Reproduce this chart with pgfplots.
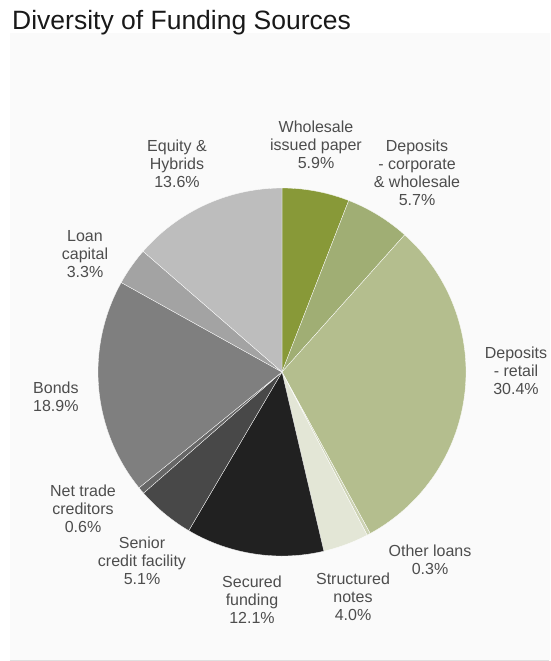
\documentclass[border=0pt]{standalone}
\usepackage{pgfplots}
\pgfplotsset{compat=1.18}
\usepackage{fontspec}
\setmainfont{Liberation Sans}
\definecolor{cWholesale}{HTML}{889938}
\definecolor{cDepCorp}{HTML}{A0AE74}
\definecolor{cDepRetail}{HTML}{B4BE8E}
\definecolor{cOther}{HTML}{CDD3B4}
\definecolor{cStruct}{HTML}{E3E6D6}
\definecolor{cSecured}{HTML}{212121}
\definecolor{cSenior}{HTML}{484848}
\definecolor{cNetTrade}{HTML}{666666}
\definecolor{cBonds}{HTML}{7F7F7F}
\definecolor{cLoan}{HTML}{A3A3A3}
\definecolor{cEquity}{HTML}{BDBDBD}
\definecolor{txt}{HTML}{4D4D4D}
\definecolor{panel}{HTML}{FAFAFA}
\tikzset{lbl/.style={text=txt, font=\fontsize{16}{18}\selectfont, align=center, inner sep=0pt}}

% pie geometry (in pixel units of the reference)
\def\cx{282}\def\cy{-372}\def\rr{184}\def\total{99.9}
\def\cum{0}
\newcommand\slice[2]{% value, colour
  \pgfmathsetmacro\aS{90-(\cum/\total)*360}%
  \pgfmathsetmacro\newcum{\cum+#1}%
  \pgfmathsetmacro\aE{90-(\newcum/\total)*360}%
  \xdef\cum{\newcum}%
  \edef\doslice{\noexpand\addplot[fill=#2, draw=white, line width=0.3pt,
      domain=\aE:\aS, samples=90, variable=\noexpand\t]
      ({\cx+\rr*cos(\noexpand\t)},{\cy+\rr*sin(\noexpand\t)})
      -- (axis cs:\cx,\cy) -- cycle;}%
  \doslice
}

\begin{document}
\begin{tikzpicture}
\begin{axis}[
  at={(0,0)}, anchor=origin,
  scale only axis, width=550pt, height=661pt,
  xmin=0, xmax=550, ymin=-661, ymax=0,
  hide axis, clip=false,
]
% background panel
\addplot[draw=none, fill=panel] coordinates {(10,-33) (550,-33) (550,-660) (10,-660)} -- cycle;
\addplot[draw=gray!25, line width=0.6pt] coordinates {(10,-660) (549,-660)};

% slices, clockwise from 12 o'clock (values in %)
\slice{5.9}{cWholesale}
\slice{5.7}{cDepCorp}
\slice{30.4}{cDepRetail}
\slice{0.3}{cOther}
\slice{4.0}{cStruct}
\slice{12.1}{cSecured}
\slice{5.1}{cSenior}
\slice{0.6}{cNetTrade}
\slice{18.9}{cBonds}
\slice{3.3}{cLoan}
\slice{13.6}{cEquity}

% title
\node[anchor=base west, inner sep=0pt, text=black!90, font=\fontsize{26.5}{30}\selectfont] at (axis cs:12,-30) {Diversity of Funding Sources};

% labels
\node[lbl] at (axis cs:316,-145) {Wholesale\\issued paper\\5.9\%};
\node[lbl] at (axis cs:417,-173) {Deposits\\- corporate\\\& wholesale\\5.7\%};
\node[lbl] at (axis cs:516,-371) {Deposits\\- retail\\30.4\%};
\node[lbl] at (axis cs:430,-560) {Other loans\\0.3\%};
\node[lbl] at (axis cs:353,-597) {Structured\\notes\\4.0\%};
\node[lbl] at (axis cs:252,-600) {Secured\\funding\\12.1\%};
\node[lbl] at (axis cs:142,-561) {Senior\\credit facility\\5.1\%};
\node[lbl] at (axis cs:83,-509) {Net trade\\creditors\\0.6\%};
\node[lbl, align=left, anchor=west] at (axis cs:33,-397) {Bonds\\18.9\%};
\node[lbl] at (axis cs:85,-254) {Loan\\capital\\3.3\%};
\node[lbl] at (axis cs:177,-164) {Equity \&\\Hybrids\\13.6\%};
\end{axis}
\path[use as bounding box] (0,0) rectangle (550pt,-661pt);
\end{tikzpicture}
\end{document}
